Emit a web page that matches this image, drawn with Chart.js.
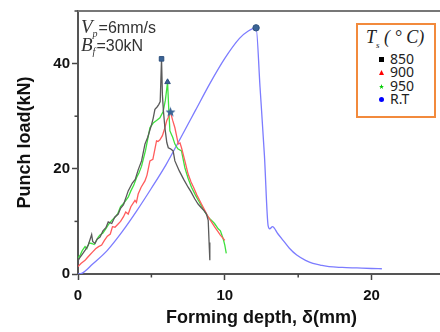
<!DOCTYPE html>
<html>
<head>
<meta charset="utf-8">
<script src="https://cdn.jsdelivr.net/npm/chart.js@4/dist/chart.umd.min.js"></script>
<style>
  html, body { margin: 0; padding: 0; background: #fff; overflow: hidden; }
  #wrap { position: relative; width: 440px; height: 332px; overflow: hidden; }
  #box { position: absolute; left: 0; top: 0; width: 452px; height: 332px; }
  .note { position: absolute; left: 81px; font-family: "Liberation Sans", Arial, sans-serif; font-size: 16px; color: #333; white-space: nowrap; }
  .note i { font-family: "Liberation Serif", "DejaVu Serif", serif; font-size: 19px; }
  .note sub { font-family: "Liberation Serif", serif; font-style: italic; font-size: 10px; margin-right: 1px; }
  #legend { position: absolute; left: 356px; top: 23px; width: 76px; height: 91px; border: 2px solid #f28a3c; background: #fff; }
  #legend .ttl { position: absolute; left: 8px; top: 2px; font-family: "Liberation Serif", serif; font-style: italic; font-size: 18px; color: #222; white-space: nowrap; }
  #legend .ttl sub { font-size: 9px; }
  #legend .row { position: absolute; left: 32px; font-family: "Noto Sans", "Open Sans", sans-serif; font-size: 14px; color: #222; line-height: 14px; }
  #legend .mk { position: absolute; left: -11px; top: 5px; width: 5px; height: 5px; }
</style>
</head>
<body>
<div id="wrap">
  <div id="box"><canvas id="chart"></canvas></div>
  <div class="note" style="top:16px"><i>V</i><sub>p</sub>=6mm/s</div>
  <div class="note" style="top:34px"><i>B</i><sub>f</sub>=30kN</div>
  <div id="legend">
    <div class="ttl"><i>T</i><sub>s</sub> ( &#176; <i>C</i>)</div>
    <div class="row" style="top:27px"><span class="mk" style="background:#000"></span>850</div>
    <div class="row" style="top:40px"><span class="mk" style="background:#f00;clip-path:polygon(50% 0,100% 100%,0 100%)"></span>900</div>
    <div class="row" style="top:54px"><span class="mk" style="background:#0c0;clip-path:polygon(50% 0,63% 38%,100% 38%,70% 60%,80% 100%,50% 75%,20% 100%,30% 60%,0 38%,37% 38%)"></span>950</div>
    <div class="row" style="top:67px"><span class="mk" style="background:#00f;border-radius:50%"></span>R.T</div>
  </div>
</div>
<script>
// Forming depth (mm) / punch load (kN)
const depth850 = [0, 0.1, 0.3, 0.5, 0.7, 0.93, 1.0, 1.16, 1.3, 1.5, 1.7, 1.9, 2.06, 2.3, 2.5, 2.74, 2.9, 3.1, 3.3, 3.42, 3.7, 3.9, 4.1, 4.33, 4.56, 4.75, 5.01, 5.12, 5.24, 5.4, 5.5, 5.6, 5.69, 5.75, 5.82, 5.92, 6.05, 6.15, 6.3, 6.48, 6.6, 6.9, 7.2, 7.5, 7.7, 7.95, 8.18, 8.4, 8.6, 8.75, 8.87, 8.93, 8.98];
const load850 = [2.5, 3.0, 3.8, 4.6, 5.5, 7.5, 6.2, 5.8, 6.6, 7.0, 8.2, 8.8, 9.9, 9.6, 10.8, 11.4, 12.5, 13.2, 14.8, 15.8, 17.3, 18.0, 19.8, 21.5, 24.7, 26.0, 28.4, 29.6, 31.3, 31.8, 32.2, 32.8, 40.9, 34.0, 31.0, 27.8, 25.0, 24.0, 23.8, 23.4, 21.5, 19.6, 18.0, 16.5, 15.6, 14.3, 13.3, 12.6, 12.0, 11.4, 10.2, 6.0, 2.6];

const depth900 = [0, 0.2, 0.48, 0.6, 0.8, 1.0, 1.2, 1.4, 1.61, 1.8, 2.0, 2.2, 2.35, 2.52, 2.7, 2.9, 3.1, 3.25, 3.42, 3.6, 3.88, 3.98, 4.1, 4.3, 4.56, 4.7, 4.9, 5.1, 5.35, 5.45, 5.58, 5.75, 5.92, 6.05, 6.14, 6.3, 6.45, 6.6, 6.75, 6.83, 6.95, 7.05, 7.28, 7.5, 7.7, 7.9, 8.1, 8.41, 8.6, 8.8, 9.0, 9.32, 9.5, 9.7, 10.0];
const load900 = [1.4, 2.0, 2.6, 3.0, 3.6, 4.2, 4.8, 5.2, 5.5, 6.4, 7.2, 7.6, 9.0, 8.9, 9.4, 10.0, 10.9, 11.8, 11.4, 12.8, 14.0, 13.6, 15.2, 16.5, 17.7, 18.8, 21.5, 21.8, 25.3, 25.2, 25.5, 26.3, 27.8, 29.2, 29.7, 30.8, 29.2, 27.8, 25.8, 24.7, 24.9, 24.0, 21.5, 19.0, 17.5, 16.3, 15.0, 13.3, 12.3, 11.2, 10.3, 8.9, 8.2, 7.4, 6.4];

const depth950 = [0, 0.15, 0.3, 0.48, 0.6, 0.75, 0.93, 1.1, 1.38, 1.5, 1.7, 1.9, 2.1, 2.3, 2.52, 2.7, 2.9, 3.1, 3.42, 3.6, 3.8, 4.0, 4.15, 4.33, 4.6, 4.9, 5.12, 5.35, 5.58, 5.8, 5.95, 6.1, 6.19, 6.26, 6.45, 6.6, 6.8, 7.05, 7.28, 7.5, 7.73, 8.0, 8.3, 8.6, 8.87, 9.1, 9.3, 9.55, 9.7, 9.89, 10.0, 10.1];
const load950 = [3.0, 3.6, 4.5, 5.2, 4.8, 5.9, 5.8, 5.6, 7.0, 7.4, 7.8, 8.6, 9.5, 10.2, 10.8, 11.4, 12.8, 13.4, 14.6, 15.8, 16.9, 18.4, 19.2, 20.5, 23.5, 27.8, 28.7, 29.2, 29.7, 30.9, 33.0, 36.5, 30.9, 27.2, 26.0, 24.7, 23.8, 23.4, 20.2, 18.2, 16.5, 15.0, 13.5, 12.0, 10.8, 10.2, 9.6, 8.6, 8.2, 6.7, 5.5, 3.9];

const depthRT = [0, 0.25, 1, 2, 3, 4, 5, 6, 7, 8, 9, 10, 11, 11.6, 12.13, 12.4, 12.7, 12.95, 13.06, 13.25, 13.6, 13.97, 14.4, 14.9, 15.5, 16.0, 16.5, 17.1, 18, 19, 20, 20.7];
const loadRT = [0, 0.1, 1.9, 4.5, 8.0, 12.0, 16.3, 20.8, 25.9, 31.1, 36.3, 41.0, 44.8, 46.2, 46.8, 35.5, 22.5, 9.2, 8.6, 9.0, 7.7, 6.4, 4.9, 3.6, 2.6, 2.0, 1.7, 1.4, 1.25, 1.15, 1.05, 1.0];

const xLabels = [0, 10, 20];
const yLabels = [0, 20, 40];

function toPoints(xs, ys) {
    return xs.map(function (x, i) { return { x: x, y: ys[i] }; });
}

// filled star used for the 900 peak marker
const starImg = document.createElement('canvas');
starImg.width = 11; starImg.height = 11;
(function () {
    const c = starImg.getContext('2d');
    c.beginPath();
    for (let i = 0; i < 10; i++) {
        const r = i % 2 === 0 ? 5.3 : 2.3;
        const a = -Math.PI / 2 + i * Math.PI / 5;
        c.lineTo(5.5 + r * Math.cos(a), 5.8 + r * Math.sin(a));
    }
    c.closePath();
    c.fillStyle = '#3a6496';
    c.fill();
})();

function makeSeries(label, xs, ys, color, style, smooth) {
    const peak = ys.indexOf(Math.max.apply(null, ys));
    return {
        label: label,
        data: toPoints(xs, ys),
        showLine: true,
        borderColor: color,
        borderWidth: 1.3,
        pointStyle: style,
        pointRadius: function (ctx) { return ctx.dataIndex === peak ? 3.2 : 0; },
        pointBackgroundColor: '#3a6496',
        pointBorderColor: '#2d4f7c',
        pointBorderWidth: 1,
        cubicInterpolationMode: smooth ? 'monotone' : 'default',
        tension: 0
    };
}

// frame line on top + short minor ticks
const framePlugin = {
    id: 'frame',
    afterDraw: function (chart) {
        const a = chart.chartArea, c = chart.ctx;
        c.save();
        c.strokeStyle = '#777';
        c.lineWidth = 2;
        c.beginPath();
        c.moveTo(a.left - 1, a.top);
        c.lineTo(a.right, a.top);
        c.stroke();
        c.strokeStyle = '#444';
        c.lineWidth = 1.5;
        chart.scales.x.ticks.forEach(function (t) {
            if (xLabels.indexOf(t.value) >= 0) return;
            const px = chart.scales.x.getPixelForValue(t.value);
            c.beginPath(); c.moveTo(px, a.bottom); c.lineTo(px, a.bottom + 3.5); c.stroke();
        });
        chart.scales.y.ticks.forEach(function (t) {
            if (yLabels.indexOf(t.value) >= 0) return;
            const py = chart.scales.y.getPixelForValue(t.value);
            c.beginPath(); c.moveTo(a.left, py); c.lineTo(a.left - 3.5, py); c.stroke();
        });
        c.restore();
    }
};

const tickFont = { family: '"Liberation Sans", Arial, sans-serif', size: 15, weight: 'bold' };
const titleFont = { family: '"Liberation Sans", Arial, sans-serif', size: 18, weight: 'bold' };

new Chart(document.getElementById('chart'), {
    type: 'scatter',
    data: {
        datasets: [
            makeSeries('850', depth850, load850, '#5a5a5a', 'rect', false),
            makeSeries('900', depth900, load900, '#ff5c5c', starImg, false),
            makeSeries('950', depth950, load950, '#3ee03e', 'triangle', false),
            makeSeries('R.T', depthRT, loadRT, '#7c7cff', 'circle', true)
        ]
    },
    options: {
        responsive: true,
        maintainAspectRatio: false,
        animation: false,
        layout: { padding: { left: 0, top: 10, right: 7, bottom: 0 } },
        plugins: { legend: { display: false }, tooltip: { enabled: false } },
        scales: {
            x: {
                type: 'linear', min: 0, max: 25,
                afterFit: function (s) { s.height = 58; },
                ticks: {
                    stepSize: 5, color: '#111', font: tickFont, padding: 7, maxRotation: 0,
                    callback: function (v) { return xLabels.indexOf(v) >= 0 ? String(v) : ''; }
                },
                grid: {
                    drawOnChartArea: false, tickLength: 6, tickWidth: 1.5,
                    tickColor: function (ctx) { return ctx.tick && xLabels.indexOf(ctx.tick.value) >= 0 ? '#444' : 'rgba(0,0,0,0)'; }
                },
                border: { display: true, color: '#555', width: 2 },
                title: { display: true, text: 'Forming depth, \u03b4(mm)', color: '#111', font: titleFont, padding: { top: 0, bottom: 3 } }
            },
            y: {
                type: 'linear', min: 0, max: 50,
                afterFit: function (s) { s.width = 78; },
                ticks: {
                    stepSize: 10, color: '#111', font: tickFont, padding: 2,
                    callback: function (v) { return yLabels.indexOf(v) >= 0 ? String(v) : ''; }
                },
                grid: {
                    drawOnChartArea: false, tickLength: 6, tickWidth: 1.5,
                    tickColor: function (ctx) { return ctx.tick && yLabels.indexOf(ctx.tick.value) >= 0 ? '#444' : 'rgba(0,0,0,0)'; }
                },
                border: { display: true, color: '#555', width: 2 },
                title: { display: true, text: 'Punch load(kN)', color: '#111', font: titleFont, padding: { top: 14, bottom: 0 } }
            }
        }
    },
    plugins: [framePlugin]
});
</script>
</body>
</html>
